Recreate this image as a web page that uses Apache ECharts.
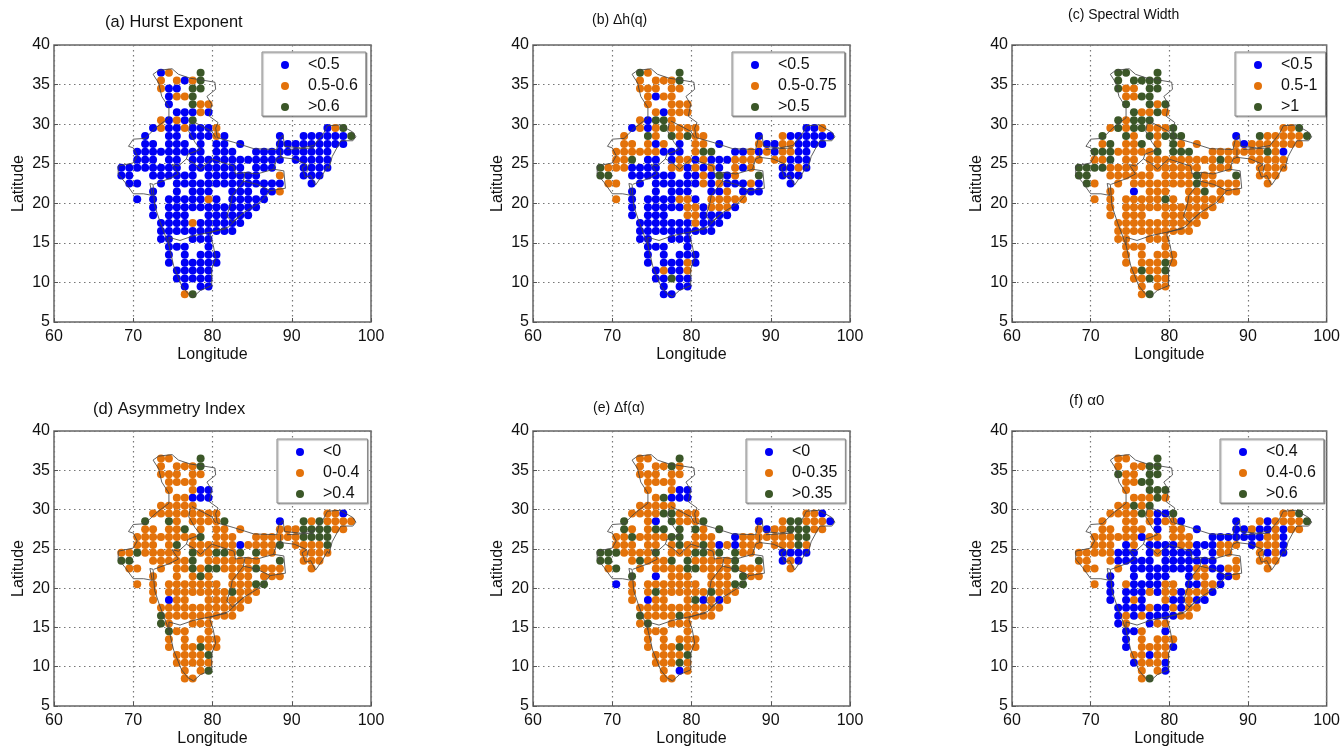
<!DOCTYPE html>
<html><head><meta charset="utf-8">
<style>html,body{margin:0;padding:0;background:#fff}#c{width:1343px;height:748px}</style>
<script src="https://cdn.jsdelivr.net/npm/echarts@6/dist/echarts.min.js"></script>
</head><body><div id="c"></div>
<script>
// Grid rows: latitude of each row, and longitude column numbers (lon = 68.5 + column)
const rowLats=[36.5,35.5,34.5,33.5,32.5,31.5,30.5,29.5,28.5,27.5,26.5,25.5,24.5,23.5,22.5,21.5,20.5,19.5,18.5,17.5,16.5,15.5,14.5,13.5,12.5,11.5,10.5,9.5,8.5];
const rowCols=[
[5,6,10],[5,7,8,9,10],[5,6,7,9,10],[6,7,8,9],[6,9,10,11],[7,8,9,10,11],[5,6,7,8,9],
[4,5,6,7,8,9,10,11,12,26,27,28],
[3,6,7,9,10,11,12,13,20,23,24,25,26,27,28,29],
[3,4,6,7,8,10,12,13,15,20,21,22,23,24,25,26,27,28],
[2,3,4,5,6,7,8,9,10,12,13,14,17,18,19,20,21,22,23,24,25,26],
[2,3,4,6,7,9,10,11,12,13,14,15,16,17,18,19,20,22,23,24,25,26],
[0,1,2,3,4,5,6,7,9,10,11,12,13,14,15,17,18,19,23,24,25,26],
[0,1,4,5,6,7,8,9,11,12,13,14,15,16,17,20,23,24,25],
[1,2,5,7,8,9,10,11,12,13,14,15,16,17,18,19,20,24],
[4,7,9,10,11,14,15,16,18,19,20],
[2,4,6,7,8,9,10,11,12,14,15,16,17,18],
[4,6,7,8,9,10,11,12,13,14,15,16,17],
[4,6,7,8,11,12,13,14,15,16],
[5,6,7,8,9,10,11,12,13,14,15],
[5,6,7,8,9,10,11,12,13,14],
[5,6,9,10,11],[6,7,8,11],[6,8,10,11,12],[6,8,9,10,11,12],[7,8,9,10,11],[7,8,9,10,11],[8,10,11],[8,9]];
// Class of each point, row by row: b = first, o = second, g = third legend class
const hurst=['bog','oobog','obbgg','boog','bgoo','bbbob','obobg','bobbobbbo bog','bbbbbbob b bbbbbbg','bbbbbbbbb bbbbbbbbb','bbbbbbbbbbbb bbbbbbbbbb','bbbbb bbbbbbbbbbbb bbbbb','bbbbbbbb bbbbbbb bbb bbbb','bb bbbbbb bbbbbbb o bbb','bbb bbbbbbbbbbbbbb b','bbbbbbbbbbo','bbbbbbbobbbbbb','bbbbbbbbbbbbb','bbbbbbbbbb','bbbbobbbbbb','bbbbbbbbbb','bbbbb','bbbb','bbbbb','bbbbbb','bbbbb','bbbbb','bbb','og'];
const deltaH=['gog','oooog','ooooo','oboo','oooo','obooo','obggo','bobogoooo bbo','ogogogoo b obbbbbb','oooboboob obboobbbb','oooooobbbogg bbobobo obb','oogbb boobobbboooo oobbb','gooobbbb oobobob obo bbob','gg bbbbbb bbobgbo g bbb','oob bbbbbbobobbbob b','bbbbbbbobbb','obbbbboob ooooo','b bbbbb oo b ooo b','bbbb oo bbbb','bbbbbbbobbb','bbbbbbbbbb','bbbbb','bbbb','bbbbb','bbbbob','bobbo','bbgbb','bbb','bb'];
const specWidth=['ggg','ggggg','googg','oogg','ggog','googo','goggg','ogoggooog oog','ggogoggg b gooooog','ogoogogoo obooooooo','gggooooogggg ooooooogob','oogoo ooooooooogoo ooooo','ggggoooo ooooooo ooo oooo','gg oooooo oooogoo g ooo','goo oooooooogooooo o','obooooogooo','ooooooogoooooo','ooooooooooooo','oooooooooo','ooooooooooo','oooooooooo','ooooo','oooo','ooooo','oooogo','ogoog','oogoo','ooo','og'];
const asym=['oog','oooog','ooooo','oooo','oobb','oobbb','ooooo','ooooooooo oob','ggooooog b gogoooo','oooogoooo oooggggoo','oooooooogooo oooooogggg','oooog oooooo b oooo g oooog','oogooooo googgog goo oooo','gg ooooog ooooooo g ooo','ooo oogoggoooogooo o','ooogooooooo','oooooooooooogg','ooooooooogooo','oboooooooo','ooooooooooo','goooooooo o','goooo','gooo','ooooo','ooogoo','oooog','ooooo','oog','oo'];
const deltaF=['oog','ooogo','ooooo','oooo','oobb','ogbbb','ooooo','oooo gg ooo oob','gobgooog b oggooob','googgggog obooggg oo','oogooooggooo booooooogg','ooooo ogoogobobooo ooogo','gggoooog oooggog goo bbbb','gg ogooog gooooog g bob','ogo ooooggoooogooo o','gboooooogoo','b oooooooo ooo gg','oog oooooo g ooo','obooogbobo','ooooooooooo','goooogoooo','ogooo','oooo','ooooo','ooogoo','oooog','ooogo','obo','oo'];
const alpha0=['oog','ooogg','googg','oogg','oggg','ooogo','oogog','oooogobbg oog','oooob oo b b oboooog','ooooob oo b bbobbob oo','oooooobooooo bbbbbbb oo b','ooobo bbbboobbbooo booob','ooooobbb bobbbbb boo obob','oo obbbbb bbbbbbb o ooo','ooo bbbbbbbb oobboo o','bbbbbboobbo','obobbbboo bboob','bbbbob oo b ooo b','bbobobbobb','bbbbobbob oo','bobobbbboo','bob oo','bbob','boooo','boooob','oob oo','booob','oob','og'];

const panelTitles=['(a) Hurst Exponent','(b) Δh(q)','(c) Spectral Width','(d) Asymmetry Index','(e) Δf(α)','(f) α0'];
const legendA=['<0.5','0.5-0.6','>0.6'], legendB=['<0.5','0.5-0.75','>0.5'], legendC=['<0.5','0.5-1','>1'];
const legendD=['<0','0-0.4','>0.4'], legendE=['<0','0-0.35','>0.35'], legendF=['<0.4','0.4-0.6','>0.6'];

// India outline and internal borders, lon/lat; null breaks the line
const border=[
[72.5,36.3],[73.2,36.8],[74.9,37.0],[75.7,36.3],[77.2,35.8],[78.5,35.6],[80.3,35.3],[80.4,34.4],[79.3,33.5],[79.9,32.5],[79.6,31.0],[80.7,30.2],[80.4,29.5],[80.6,28.3],[82.7,27.7],[85.2,26.9],[88.1,26.8],[88.4,28.1],[88.9,28.6],[89.1,27.2],[91.1,27.0],[92.8,27.3],[94.0,28.8],[94.5,29.8],[96.1,29.9],[97.7,29.0],[98.1,28.4],[97.7,27.9],[96.2,27.9],[95.8,27.2],[95.1,25.9],[94.7,24.4],[94.5,24.7],[93.9,23.6],[93.0,22.3],[92.4,23.5],[91.7,23.3],[91.3,24.5],[91.9,24.9],[90.3,25.6],[88.6,25.8],[88.1,25.6],[87.7,24.3],[89.0,24.1],[89.2,21.9],[87.3,21.6],[86.0,20.1],[83.9,18.8],[82.0,17.0],[79.7,16.3],[79.7,15.9],[80.1,14.7],[80.4,13.0],[79.9,11.7],[79.9,9.6],[78.5,9.0],[77.6,8.2],[76.9,8.6],[76.1,9.6],[75.1,12.1],[74.5,14.7],[73.4,17.6],[72.7,19.7],[72.5,22.4],[72.1,22.5],[72.4,21.0],[71.3,21.2],[70.0,21.2],[69.0,22.6],[68.1,23.7],[68.1,24.7],[70.0,25.1],[70.5,26.0],[70.0,27.0],[69.4,27.2],[70.0,28.1],[71.5,28.2],[72.8,29.5],[74.5,30.8],[74.5,32.1],[73.6,33.5],[73.2,35.2],[72.5,36.3],null,
[77.2,30.2],[77.0,29.1],[77.8,27.7],[78.5,26.8],[76.9,26.2],[76.7,25.6],[77.6,25.1],[78.5,24.3],[79.9,25.6],[82.7,24.7],[82.9,23.7],[84.1,23.9],[85.6,23.7],[87.7,24.3],null,
[77.4,30.4],[79.9,29.1],[80.4,28.3],null,
[84.1,23.9],[83.9,22.8],[82.5,21.0],[82.3,19.9],[81.8,18.4],[82.5,17.6],[83.9,18.8],null,
[83.9,22.8],[85.6,22.4],[87.3,21.6],null,
[81.8,16.8],[77.6,15.9],[75.9,15.3],[74.5,15.7],[74.5,14.7],null,
[76.7,25.6],[75.7,24.7],[74.9,24.9],[75.7,23.7],[74.5,23.1],[72.6,22.4],null,
[89.4,26.8],[92.8,27.0],null,
[92.1,24.9],[91.9,23.9],null,
[88.6,26.8],[88.6,25.8]];

const pointClasses=[hurst,deltaH,specWidth,asym,deltaF,alpha0];
const legends=[legendA,legendB,legendC,legendD,legendE,legendF];
const plotLeft=[54,533,1012,54,533,1012], plotTop=[45,45,45,431,431,431];
const legendLeft=[262,732,1235,277,746,1220], legendTop=[52,52,52,439,439,439];
const titlePos=[[105,14],[592,13],[1068,8],[93,401],[593,401],[1069,393]];
const titleSizes=[16.4,14,14,16.5,14,15];
const classColors={b:'#0000F5',o:'#E3720A',g:'#3B5728'};
const font='"Liberation Sans",Arial,sans-serif';
const lineCol='#555';

const grid=[],xAxis=[],yAxis=[],series=[],title=[],legend=[];
pointClasses.forEach((rows,p)=>{
  grid.push({left:plotLeft[p],top:plotTop[p],width:317,height:277,show:true,borderColor:'#666',borderWidth:1.5,backgroundColor:'#fff',containLabel:false});
  xAxis.push({gridIndex:p,type:'value',min:60,max:100,interval:10,name:'Longitude',nameLocation:'middle',nameGap:25,
    nameTextStyle:{fontFamily:font,fontSize:16,color:'#111'},
    axisLine:{show:false},axisTick:{show:true,inside:true,length:4,lineStyle:{color:lineCol}},
    axisLabel:{fontFamily:font,fontSize:16,color:'#111',margin:7},
    splitLine:{show:true,lineStyle:{type:[1.5,3.5],color:'#777',width:1.2}}});
  yAxis.push({gridIndex:p,type:'value',min:5,max:40,interval:5,name:'Latitude',nameLocation:'middle',nameGap:27,
    nameTextStyle:{fontFamily:font,fontSize:16,color:'#111'},
    axisLine:{show:false},axisTick:{show:true,inside:true,length:4,lineStyle:{color:lineCol}},
    axisLabel:{fontFamily:font,fontSize:16,color:'#111',margin:4},
    splitLine:{show:true,lineStyle:{type:[1.5,3.5],color:'#777',width:1.2}}});
  title.push({text:panelTitles[p],left:titlePos[p][0],top:titlePos[p][1],padding:0,textStyle:{fontFamily:font,fontSize:titleSizes[p],fontWeight:'normal',color:'#111'}});
  ['b','o','g'].forEach((k,i)=>{
    const data=[];
    rows.forEach((s,r)=>{
      const cls=s.replace(/ /g,'');
      rowCols[r].forEach((c,j)=>{ if(cls[j]===k) data.push([68.5+c,rowLats[r]]); });
    });
    series.push({type:'scatter',name:legends[p][i],xAxisIndex:p,yAxisIndex:p,data,symbol:'circle',symbolSize:8,
      itemStyle:{color:classColors[k],opacity:1},silent:true,animation:false,z:3});
  });
  series.push({type:'line',name:'border'+p,xAxisIndex:p,yAxisIndex:p,showSymbol:false,symbol:'none',connectNulls:false,
    data:border.map(q=>q?q:[null,null]),lineStyle:{color:'#444',width:1,opacity:0.85},silent:true,animation:false,z:4});
  legend.push({show:true,left:legendLeft[p],top:legendTop[p],orient:'vertical',data:legends[p],selectedMode:false,icon:'circle',
    itemWidth:30,itemHeight:8,itemGap:5,padding:[5,8,1,19],backgroundColor:'#fff',borderColor:'#888',borderWidth:1,borderRadius:0,
    shadowColor:'rgba(0,0,0,0.35)',shadowOffsetX:1,shadowOffsetY:1,shadowBlur:1,
    itemStyle:{opacity:1},
    textStyle:{fontFamily:font,fontSize:16,color:'#111',padding:[0,0,0,3]},z:6});
});
const chart=echarts.init(document.getElementById('c'),null,{renderer:'canvas'});
chart.setOption({animation:false,backgroundColor:'#fff',title,legend,grid,xAxis,yAxis,series,tooltip:{show:false}});
</script></body></html>
